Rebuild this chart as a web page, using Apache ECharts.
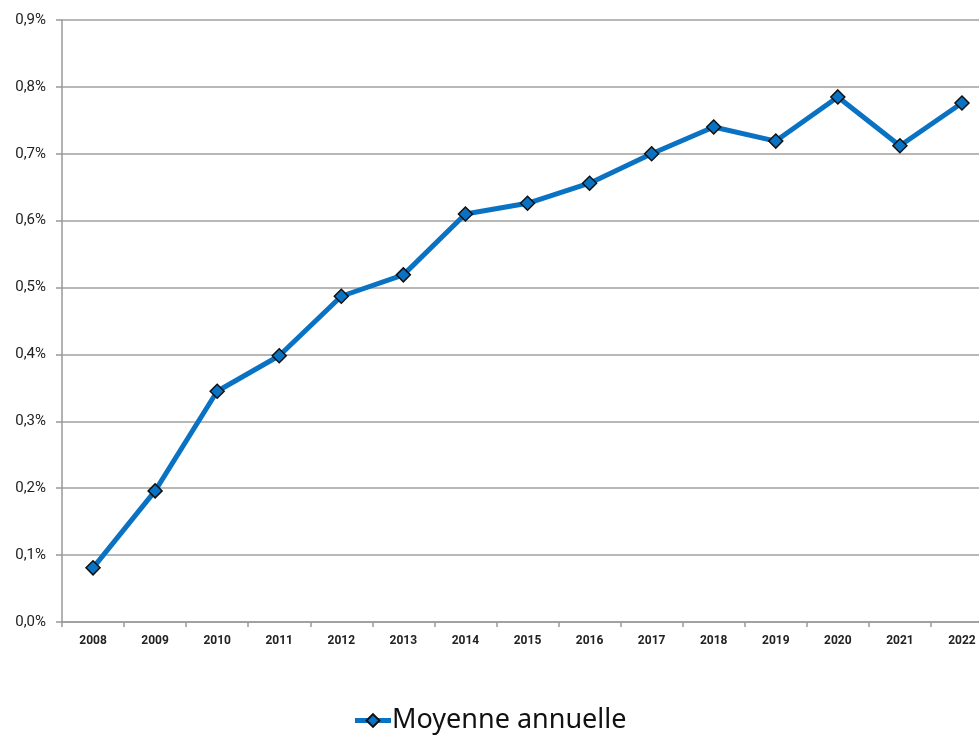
<!DOCTYPE html>
<html>
<head>
<meta charset="utf-8">
<script src="https://cdn.jsdelivr.net/npm/echarts@6/dist/echarts.min.js"></script>
<style>
html,body{margin:0;padding:0;background:#fff;}
#c{width:979px;height:740px;}
</style>
</head>
<body>
<div id="c"></div>
<script>
const categories = ['2008','2009','2010','2011','2012','2013','2014','2015','2016','2017','2018','2019','2020','2021','2022'];
const moyenne = [0.081,0.196,0.345,0.398,0.487,0.519,0.610,0.626,0.656,0.700,0.740,0.719,0.785,0.712,0.776];
const seriesName = 'Moyenne annuelle';

const chart = echarts.init(document.getElementById('c'), null, {renderer:'canvas'});
chart.setOption({
  animation:false,
  backgroundColor:'#fff',
  grid:{left:62, width:931, top:20, height:602, containLabel:false, outerBoundsMode:'none'},
  legend:{
    data:[seriesName],
    bottom:1,
    left:'center',
    itemWidth:36,
    itemHeight:16,
    itemGap:4,
    lineStyle:{width:5},
    textStyle:{fontFamily:'Noto Sans', fontSize:27, color:'#111', padding:[0,0,0,-4]}
  },
  xAxis:{
    type:'category',
    data:categories,
    boundaryGap:true,
    axisLine:{lineStyle:{color:'#999', width:1.5}},
    axisTick:{show:true, length:5, lineStyle:{color:'#999', width:1.5}},
    axisLabel:{fontFamily:'Roboto', fontWeight:'bold', fontSize:12, color:'#222', margin:13}
  },
  yAxis:{
    type:'value',
    min:0, max:0.9, interval:0.1,
    axisLine:{show:true, lineStyle:{color:'#999', width:1.5}},
    axisTick:{show:true, length:6, lineStyle:{color:'#999', width:1.5}},
    splitLine:{lineStyle:{color:'#a0a0a0', width:1.5}},
    axisLabel:{fontFamily:'Roboto', fontSize:15, color:'#222', margin:16,
      formatter:v=>v.toFixed(1).replace('.',',')+'%'}
  },
  series:[{
    name:seriesName,
    type:'line',
    data:moyenne,
    symbol:'diamond',
    symbolSize:14,
    lineStyle:{color:'#0a72c2', width:5},
    itemStyle:{color:'#0a72c2', borderColor:'#111', borderWidth:1.5},
    z:3
  }]
});
</script>
</body>
</html>
